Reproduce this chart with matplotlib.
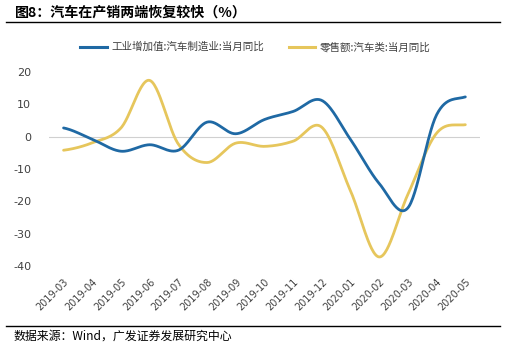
import numpy as np
import matplotlib
matplotlib.use("Agg")
import matplotlib.pyplot as plt
from matplotlib.lines import Line2D

plt.rcParams['font.family'] = ['Noto Sans CJK SC', 'DejaVu Sans']

months = ["2019-03", "2019-04", "2019-05", "2019-06", "2019-07", "2019-08", "2019-09",
          "2019-10", "2019-11", "2019-12", "2020-01", "2020-02", "2020-03", "2020-04", "2020-05"]
industry = [2.7, -0.8, -4.5, -2.5, -4.2, 4.5, 0.9, 5.3, 7.8, 11.2, -0.9, -14.5, -22.0, 6.8, 12.3]
retail = [-4.2, -1.9, 2.7, 17.4, -2.3, -8.0, -2.0, -3.0, -1.4, 2.9, -16.8, -37.2, -17.8, 1.1, 3.7]
label_ind = "工业增加值:汽车制造业:当月同比"
label_ret = "零售额:汽车类:当月同比"
yticks = [20, 10, 0, -10, -20, -30, -40]

BLUE = "#1f69a4"
YELLOW = "#e6c65c"


def smooth(y, n=30, tension=0.5):
    y = np.asarray(y, float)
    x = np.arange(len(y), dtype=float)
    xs, ys = [], []
    for i in range(len(y) - 1):
        p0 = y[i - 1] if i > 0 else y[i]
        p1, p2 = y[i], y[i + 1]
        p3 = y[i + 2] if i + 2 < len(y) else y[i + 1]
        m1 = tension * (p2 - p0)
        m2 = tension * (p3 - p1)
        t = np.linspace(0, 1, n, endpoint=False)
        h00 = 2 * t**3 - 3 * t**2 + 1
        h10 = t**3 - 2 * t**2 + t
        h01 = -2 * t**3 + 3 * t**2
        h11 = t**3 - t**2
        xs.append(x[i] + t)
        ys.append(h00 * p1 + h10 * m1 + h01 * p2 + h11 * m2)
    xs.append([x[-1]])
    ys.append([y[-1]])
    return np.concatenate(xs), np.concatenate(ys)


fig = plt.figure(figsize=(5.09, 3.49), dpi=100)
W, H = 509, 349
ax = fig.add_axes([49.2 / W, 1 - 266 / H, (479.7 - 49.2) / W, (266 - 72) / H])

xi, yi = smooth(industry)
xr, yr = smooth(retail)
ax.axhline(0, color="#d0d0d0", lw=0.8, zorder=1)
ax.plot(xr, yr, color=YELLOW, lw=2.0, solid_capstyle="round", clip_on=False, zorder=2)
ax.plot(xi, yi, color=BLUE, lw=2.0, solid_capstyle="round", clip_on=False, zorder=3)

ax.set_xlim(-0.5, len(months) - 0.5)
ax.set_ylim(-40, 20)
ax.set_yticks(yticks)
ax.set_yticklabels([str(v) for v in yticks], color="#404040", fontsize=8, family="DejaVu Sans")
ax.set_xticks(range(len(months)))
ax.set_xticklabels(months, rotation=45, ha="right", rotation_mode="anchor",
                   color="#404040", fontsize=7, family="DejaVu Sans")
ax.tick_params(axis="both", length=0)
ax.tick_params(axis="y", pad=13)
ax.tick_params(axis="x", pad=8)
for s in ax.spines.values():
    s.set_visible(False)

# title
fig.text(15 / W, 1 - 13 / H, "图8：汽车在产销两端恢复较快（%）", fontsize=10.1,
         fontweight="bold", va="center", ha="left", color="black")
fig.add_artist(Line2D([6 / W, 500 / W], [1 - 22 / H, 1 - 22 / H], color="black", lw=1.0))

# legend
ly = 1 - 47 / H
fig.add_artist(Line2D([80 / W, 107 / W], [ly, ly], color=BLUE, lw=2.2))
fig.text(111 / W, ly, label_ind, fontsize=7.6, va="center", ha="left", color="#404040")
fig.add_artist(Line2D([289 / W, 315 / W], [ly, ly], color=YELLOW, lw=2.2))
fig.text(320 / W, ly, label_ret, fontsize=7.6, va="center", ha="left", color="#404040")

# footer
fig.add_artist(Line2D([6 / W, 500 / W], [1 - 326 / H, 1 - 326 / H], color="black", lw=1.0))
fig.text(13 / W, 1 - 336 / H, "数据来源：Wind，广发证券发展研究中心", fontsize=8.6,
         va="center", ha="left", color="black")

fig.savefig("out.png", dpi=100)
